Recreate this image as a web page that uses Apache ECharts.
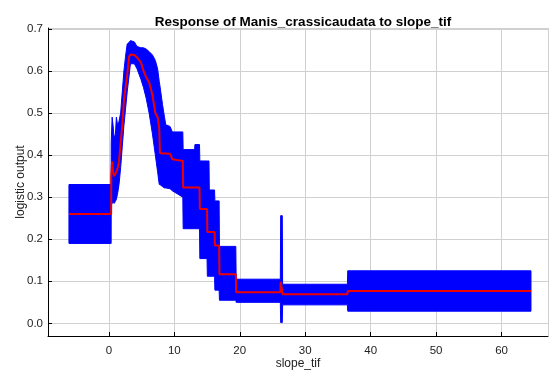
<!DOCTYPE html>
<html>
<head>
<meta charset="utf-8">
<script src="https://cdn.jsdelivr.net/npm/echarts@6/dist/echarts.min.js"></script>
<style>
  html, body { margin: 0; padding: 0; background: #fff; }
  #chart { width: 551px; height: 370px; }
</style>
</head>
<body>
<div id="chart"></div>
<script>
// slope values where the response changes (repeated x = vertical jump)
const slopeX = [
  -6.1, 0.35, 0.36, 0.5, 0.65, 0.8, 1.0, 1.15, 1.35, 1.55, 1.8, 2.05, 2.3, 2.55, 2.8,
  3.1, 3.3, 3.9, 4.3, 4.9, 5.3, 5.7, 6.15, 6.66, 7.1, 7.45, 7.7, 7.8, 8.2, 8.5, 8.7,
  9.35, 9.7, 11.3, 11.35, 13.1, 13.15, 13.85, 13.9, 15.0, 15.05, 15.3, 15.35, 16.15,
  16.2, 16.85, 16.9, 19.4, 19.45, 26.2, 26.25, 26.5, 26.55, 36.45, 36.5, 64.5
]
// mean response (red)
const meanOut = [
  0.26, 0.26, 0.35, 0.385, 0.36, 0.35, 0.355, 0.36, 0.37, 0.385, 0.43, 0.47, 0.53, 0.56, 0.59,
  0.634, 0.639, 0.638, 0.632, 0.62, 0.60, 0.585, 0.573, 0.543, 0.50, 0.49, 0.464, 0.405, 0.404, 0.404, 0.404,
  0.403, 0.39, 0.386, 0.323, 0.323, 0.323, 0.323, 0.272, 0.272, 0.217, 0.217, 0.217, 0.217,
  0.185, 0.185, 0.117, 0.117, 0.074, 0.074, 0.099, 0.099, 0.069, 0.069, 0.077, 0.077
]
// mean - sd (lower edge of blue band)
const lowOut = [
  0.19, 0.19, 0.28, 0.285, 0.29, 0.285, 0.29, 0.295, 0.31, 0.33, 0.37, 0.42, 0.47, 0.51, 0.55,
  0.59, 0.617, 0.617, 0.605, 0.58, 0.56, 0.535, 0.50, 0.45, 0.40, 0.36, 0.33, 0.33, 0.325, 0.322, 0.322,
  0.32, 0.315, 0.30, 0.225, 0.225, 0.225, 0.225, 0.154, 0.154, 0.112, 0.112, 0.112, 0.112,
  0.079, 0.079, 0.055, 0.055, 0.05, 0.05, 0.002, 0.002, 0.044, 0.044, 0.029, 0.029
]
// mean + sd (upper edge of blue band)
const highOut = [
  0.33, 0.33, 0.43, 0.49, 0.47, 0.44, 0.45, 0.49, 0.47, 0.48, 0.50, 0.55, 0.60, 0.635, 0.664,
  0.668, 0.672, 0.669, 0.658, 0.655, 0.655, 0.652, 0.646, 0.638, 0.625, 0.605, 0.575, 0.565, 0.52, 0.49, 0.472,
  0.468, 0.455, 0.455, 0.413, 0.413, 0.425, 0.425, 0.386, 0.386, 0.386, 0.386, 0.317, 0.317,
  0.291, 0.291, 0.183, 0.183, 0.105, 0.105, 0.256, 0.256, 0.093, 0.093, 0.125, 0.125
]

const chart = echarts.init(document.getElementById('chart'), null, { renderer: 'canvas' })

const textFont = 'Liberation Sans, Arial, sans-serif'

chart.setOption({
  animation: false,
  title: {
    text: 'Response of Manis_crassicaudata to slope_tif',
    left: 298,
    textAlign: 'center',
    top: 10,
    textStyle: { fontSize: 13.5, fontWeight: 'bold', color: '#000', fontFamily: textFont }
  },
  grid: { left: 48, right: 3, top: 28, bottom: 34, outerBoundsMode: 'none' },
  xAxis: {
    type: 'value',
    min: -9.3,
    max: 67.1,
    splitNumber: 8,
    minInterval: 10,
    maxInterval: 10,
    name: 'slope_tif',
    nameLocation: 'middle',
    nameGap: 22,
    nameMoveOverlap: false,
    nameTextStyle: { color: '#222', fontSize: 12, fontFamily: textFont },
    axisLine: { onZero: false, lineStyle: { color: '#000', width: 1 } },
    axisTick: { inside: true, length: 4, lineStyle: { color: '#000' } },
    axisLabel: { color: '#222', fontSize: 11.5, margin: 9, fontFamily: textFont, showMinLabel: false, showMaxLabel: false },
    splitLine: { show: true, lineStyle: { color: '#d0d0d0', width: 1 } }
  },
  yAxis: {
    type: 'value',
    min: -0.03,
    max: 0.702,
    minInterval: 0.1,
    maxInterval: 0.1,
    name: 'logistic output',
    nameLocation: 'middle',
    nameGap: 21,
    nameMoveOverlap: false,
    nameTextStyle: { color: '#222', fontSize: 12, fontFamily: textFont },
    axisLine: { onZero: false, lineStyle: { color: '#000', width: 1 } },
    axisTick: { inside: true, length: 4, lineStyle: { color: '#000' } },
    axisLabel: {
      color: '#222', fontSize: 11.5, margin: 5, fontFamily: textFont,
      showMinLabel: false,
      formatter: (v) => v.toFixed(1)
    },
    splitLine: { show: true, lineStyle: { color: '#d0d0d0', width: 1 } }
  },
  series: [
    {
      name: 'band',
      type: 'custom',
      clip: true,
      data: [[slopeX[0], lowOut[0]]],
      renderItem: (params, api) => {
        const upper = slopeX.map((x, i) => api.coord([x, highOut[i]]))
        const lower = slopeX.map((x, i) => api.coord([x, lowOut[i]])).reverse()
        return {
          type: 'polygon',
          shape: { points: upper.concat(lower) },
          style: { fill: '#0000ff', stroke: '#0000ff', lineWidth: 1 }
        }
      }
    },
    {
      name: 'mean',
      type: 'line',
      showSymbol: false,
      data: slopeX.map((x, i) => [x, meanOut[i]]),
      lineStyle: { color: '#ee0000', width: 2 },
      z: 3
    }
  ]
})
</script>
</body>
</html>
